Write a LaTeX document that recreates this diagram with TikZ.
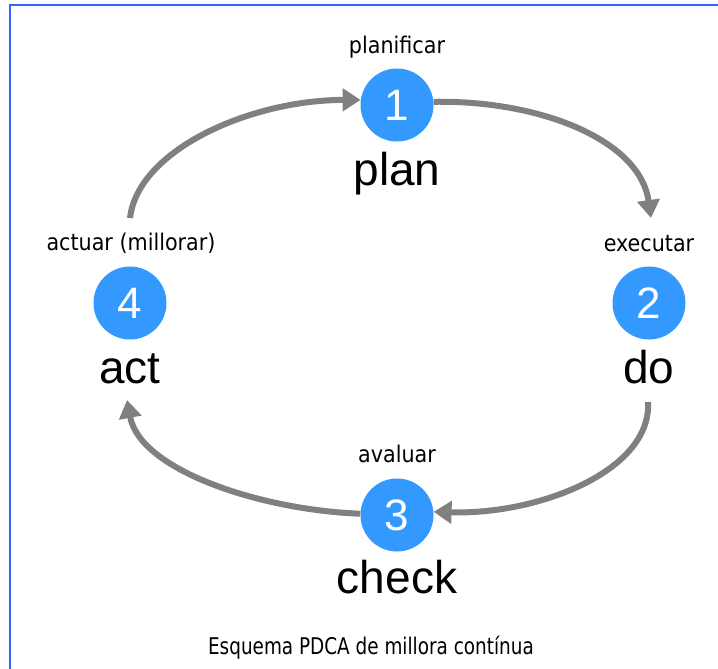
\documentclass[tikz,border=0pt]{standalone}
\usepackage{fontspec}
\setmainfont{Liberation Sans}
\newfontfamily\smallfont{DejaVu Sans Condensed}
\usetikzlibrary{arrows.meta}
\definecolor{cblue}{RGB}{51,153,255}
\definecolor{agray}{RGB}{128,128,128}
\definecolor{fblue}{RGB}{51,102,255}
\begin{document}
\begin{tikzpicture}[x=1pt,y=-1pt,
 stepcircle/.style={circle, fill=cblue, minimum size=73pt, inner sep=0pt, text=white, font=\fontsize{44}{44}\selectfont},
 word/.style={font=\fontsize{46}{46}\selectfont, anchor=base, inner sep=0pt},
 sublabel/.style={font=\smallfont\fontsize{23}{23}\selectfont, anchor=base, inner sep=0pt},
 flow/.style={draw=agray, line width=6pt, -{Triangle[length=18pt,width=22pt]}}]
\useasboundingbox (0,0) rectangle (718,669);
\draw[fblue, line width=2.5pt] (10,669) -- (10,5) -- (718,5);

\node[stepcircle] (c1) at (397,105) {1};
\node[stepcircle] (c2) at (649,303) {2};
\node[stepcircle] (c3) at (397,515) {3};
\node[stepcircle] (c4) at (130,303) {4};

\node[sublabel] (l1) at (397,54) {planificar};
\node[sublabel] (l2) at (649,251) {executar};
\node[sublabel] (l3) at (397,462) {avaluar};
\node[sublabel] (l4) at (131,250) {actuar (millorar)};

\node[word] (w1) at (397,185) {plan};
\node[word] (w2) at (649,383) {do};
\node[word] (w3) at (397,593) {check};
\node[word] (w4) at (130,383) {act};

\node[sublabel] (cap) at (371,654) {\scalebox{0.89}[1]{Esquema PDCA de millora contínua}};

\coordinate (s41) at (130,218);
\coordinate (e12) at (651,218);
\coordinate (s23) at (648,402);
\coordinate (e34) at (127,400);

\draw[flow] (s41) .. controls (138,150) and (250,100) .. (c1.172);
\draw[flow] (c1.5) .. controls (540,100) and (640,140) .. (e12);
\draw[flow] (s23) .. controls (652,470) and (540,515) .. (c3.5);
\draw[flow] (c3.178) .. controls (260,510) and (140,470) .. (e34);
\end{tikzpicture}
\end{document}
